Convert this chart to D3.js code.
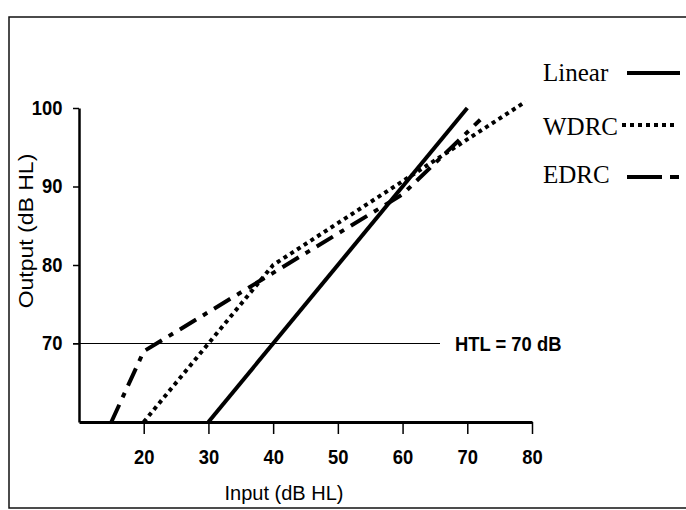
<!DOCTYPE html>
<html><head><meta charset="utf-8">
<script src="https://cdn.jsdelivr.net/npm/d3@7"></script>
<style>
body{margin:0;background:#fff;}
svg{display:block;}
</style></head>
<body>
<svg id="c" width="686" height="510"></svg>
<script>
// ---- data ----
const xTicks = [20, 30, 40, 50, 60, 70, 80];
const yTicks = [70, 80, 90, 100];
const linearX = [30, 70];
const linearY = [60, 100];
const wdrcX = [20, 40, 79];
const wdrcY = [60, 80, 100.8];
const edrcX = [15, 20, 40, 60, 72];
const edrcY = [60, 69, 79, 89, 98.5];
const seriesNames = ["Linear", "WDRC", "EDRC"];
const htlValue = 70;
const htlLabel = "HTL = 70 dB";

const svg = d3.select("#c");

// outer frame
svg.append("rect").attr("x", 9).attr("y", 17).attr("width", 690).attr("height", 491)
  .attr("fill", "none").attr("stroke", "#111").attr("stroke-width", 1.5);

const x = d3.scaleLinear().domain([10, 80]).range([79, 532]);
const y = d3.scaleLinear().domain([60, 100]).range([422, 108]);

const sans = "'Liberation Sans',Arial,sans-serif";

// y axis
const ya = svg.append("g").attr("transform", `translate(${x(10)},0)`)
  .call(d3.axisLeft(y).tickValues(yTicks).tickSize(6).tickPadding(12).tickSizeOuter(0));
ya.select(".domain").attr("stroke", "#000").attr("stroke-width", 2.5);
ya.selectAll(".tick line").attr("stroke", "#000").attr("stroke-width", 1.5);
ya.selectAll(".tick text").attr("font-family", sans).attr("font-weight", "bold")
  .attr("font-size", 20).attr("fill", "#000").attr("transform", "scale(0.92,1)");

// x axis
const xa = svg.append("g").attr("transform", `translate(0,${y(60)})`)
  .call(d3.axisBottom(x).tickValues(xTicks).tickSize(12).tickPadding(16).tickSizeOuter(0));
xa.select(".domain").attr("stroke", "#000").attr("stroke-width", 3);
xa.selectAll(".tick line").attr("stroke", "#000").attr("stroke-width", 1.5);
xa.selectAll(".tick text").attr("font-family", sans).attr("font-weight", "bold")
  .attr("font-size", 20).attr("fill", "#000").attr("transform", "scale(0.92,1)");

// axis titles
svg.append("text").attr("x", 284).attr("y", 500).attr("text-anchor", "middle")
  .attr("font-family", sans).attr("font-size", 20).attr("fill", "#000").text("Input (dB HL)");
svg.append("text").attr("transform", `translate(33,231) rotate(-90) scale(1.15,1)`).attr("text-anchor", "middle")
  .attr("font-family", sans).attr("font-size", 20).attr("fill", "#000")
  .text("Output (dB HL)");

// HTL line
svg.append("line").attr("x1", x(10) - 6).attr("x2", 440).attr("y1", y(htlValue)).attr("y2", y(htlValue))
  .attr("stroke", "#000").attr("stroke-width", 1.2);
svg.append("text").attr("transform", `translate(455,${y(htlValue) + 7}) scale(0.92,1)`)
  .attr("font-family", sans).attr("font-weight", "bold").attr("font-size", 20).attr("fill", "#000")
  .text(htlLabel);

const line = d3.line().x(d => x(d[0])).y(d => y(d[1]));
const styles = [
  {dash: null},
  {dash: "4,4"},
  {dash: "19,8,5,8"}
];
const series = [
  d3.zip(linearX, linearY),
  d3.zip(wdrcX, wdrcY),
  d3.zip(edrcX, edrcY)
];
series.forEach((pts, i) => {
  svg.append("path").attr("d", line(pts)).attr("fill", "none").attr("stroke", "#000")
    .attr("stroke-width", 4).attr("stroke-dasharray", styles[i].dash);
});

// legend
const legY = [81, 135, 183];
const lineY = [73, 125, 177];
const legLineX = [[627, 680], [622, 678], [627, 679]];
seriesNames.forEach((n, i) => {
  svg.append("text").attr("x", 543).attr("y", legY[i])
    .attr("font-family", "'Liberation Serif','Times New Roman',serif").attr("font-size", 25)
    .attr("fill", "#000").text(n);
  svg.append("line").attr("x1", legLineX[i][0]).attr("x2", legLineX[i][1])
    .attr("y1", lineY[i]).attr("y2", lineY[i])
    .attr("stroke", "#000").attr("stroke-width", 4)
    .attr("stroke-dasharray", i === 2 ? "35,8,9,40" : styles[i].dash);
});
</script>
</body></html>
